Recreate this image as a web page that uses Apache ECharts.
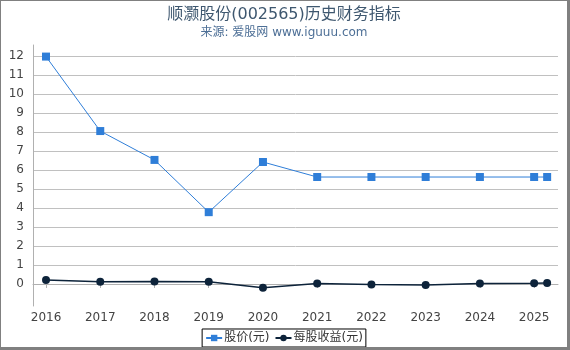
<!DOCTYPE html>
<html>
<head>
<meta charset="utf-8">
<script src="https://cdn.jsdelivr.net/npm/echarts@6/dist/echarts.min.js"></script>
<style>
  html, body { margin: 0; padding: 0; background: #fff; }
  #chart {
    width: 570px; height: 350px; box-sizing: border-box;
    border-left: 1px solid #808080; border-top: 1px solid #808080;
    border-right: 3px solid #808080; border-bottom: 3px solid #808080;
  }
</style>
</head>
<body>
<div id="chart"></div>
<script>
// years as decimal positions on the time scale (last point is 2025 Q1)
const years = [2016, 2017, 2018, 2019, 2020, 2021, 2022, 2023, 2024, 2025, 2025.24]
const price = [11.97, 8.05, 6.53, 3.78, 6.42, 5.63, 5.63, 5.63, 5.63, 5.63, 5.63]
const eps = [0.21, 0.12, 0.13, 0.12, -0.2, 0.02, -0.03, -0.06, 0.03, 0.04, 0.05]
const xTicks = [2016, 2017, 2018, 2019, 2020, 2021, 2022, 2023, 2024, 2025]
const yTicks = [0, 1, 2, 3, 4, 5, 6, 7, 8, 9, 10, 11, 12]

const pair = (vals) => years.map((y, i) => [y, vals[i]])
const font = 'DejaVu Sans, Noto Sans CJK SC, sans-serif'

const chart = echarts.init(document.getElementById('chart'), null, { renderer: 'canvas' })
chart.setOption({
  animation: false,
  textStyle: { fontFamily: font },
  title: {
    text: '顺灏股份(002565)历史财务指标',
    subtext: '来源: 爱股网 www.iguuu.com',
    left: 'center',
    top: 1,
    itemGap: 4,
    textStyle: { fontSize: 16, fontWeight: 'normal', color: '#3e576f', fontFamily: font },
    subtextStyle: { fontSize: 12, color: '#4d6f96', fontFamily: font },
  },
  grid: { left: 32, right: 9, top: 44, bottom: 41 },
  xAxis: {
    type: 'value',
    min: 2015.76,
    max: 2025.44,
    axisLine: { lineStyle: { color: '#b0b0b0' } },
    axisTick: { show: true, length: 4, customValues: xTicks, lineStyle: { color: '#b0b0b0' } },
    axisLabel: { customValues: xTicks, color: '#444', fontSize: 12, margin: 6, formatter: (v) => String(v) },
    splitLine: { show: false },
  },
  yAxis: {
    type: 'value',
    min: -1.16,
    max: 12.58,
    axisLine: { show: true, lineStyle: { color: '#b0b0b0' } },
    axisTick: { show: false, customValues: yTicks },
    axisLabel: { customValues: yTicks, color: '#444', fontSize: 12, margin: 9, formatter: (v) => String(v) },
    splitLine: { show: true, lineStyle: { color: '#c0c0c0', width: 1 } },
  },
  legend: {
    bottom: 0,
    left: 'center',
    borderColor: '#000',
    borderWidth: 1,
    padding: [3, 3, 3, 3],
    itemGap: 5,
    itemWidth: 16,
    itemHeight: 8,
    textStyle: { fontSize: 12, color: '#333', fontFamily: font, padding: [0, 0, 0, -3] },
    data: ['股价(元)', '每股收益(元)'],
  },
  series: [
    {
      name: '股价(元)',
      type: 'line',
      data: pair(price),
      symbol: 'rect',
      symbolSize: 8,
      color: '#2f7ed8',
      lineStyle: { width: 1, color: '#2f7ed8' },
      itemStyle: { color: '#2f7ed8' },
    },
    {
      name: '每股收益(元)',
      type: 'line',
      data: pair(eps),
      symbol: 'circle',
      symbolSize: 8,
      color: '#0d233a',
      lineStyle: { width: 1.5, color: '#0d233a' },
      itemStyle: { color: '#0d233a' },
    },
  ],
})
</script>
</body>
</html>
